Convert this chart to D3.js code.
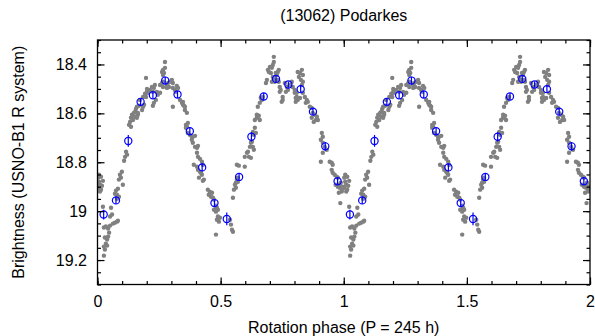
<!DOCTYPE html>
<html>
<head>
<meta charset="utf-8">
<script src="https://cdn.jsdelivr.net/npm/d3@7"></script>
<style>
  body { margin: 0; background: #fff; }
  svg text { font-family: "Liberation Sans", Arial, Helvetica, sans-serif; fill: #000; }
</style>
</head>
<body>
<svg id="chart" width="595" height="336"></svg>
<script>
// Folded light curve of (13062) Podarkes, shown over two rotation cycles.
const title = "(13062) Podarkes";
const xTitle = "Rotation phase (P = 245 h)";
const yTitle = "Brightness (USNO-B1 R system)";

const cycles = [0, 1];
const xTicks = [0, 0.5, 1, 1.5, 2];
const xTickLabels = ["0", "0.5", "1", "1.5", "2"];
const yTicks = [18.4, 18.6, 18.8, 19, 19.2];
const yTickLabels = ["18.4", "18.6", "18.8", "19", "19.2"];

// Binned means (phase bin centre, magnitude, 1-sigma error)
const binPhase = [0.025, 0.075, 0.125, 0.175, 0.225, 0.275, 0.325, 0.375, 0.425, 0.475,
                  0.525, 0.575, 0.625, 0.675, 0.725, 0.775, 0.825, 0.875, 0.925, 0.975];
const binMag = [19.014, 18.956, 18.713, 18.553, 18.526, 18.466, 18.523, 18.673, 18.821, 18.967,
                19.032, 18.860, 18.696, 18.531, 18.459, 18.482, 18.501, 18.593, 18.735, 18.878];
const binErr = [0.020, 0.015, 0.024, 0.014, 0.012, 0.016, 0.014, 0.016, 0.016, 0.014,
                0.026, 0.016, 0.019, 0.014, 0.014, 0.012, 0.014, 0.014, 0.018, 0.014];

// Individual measurements (phase, magnitude)
const dotPhase = [
  0.002, 0.006, 0.010, 0.002, 0.014, 0.018, 0.010, 0.022, 0.006, 0.014,
  0.022, 0.026, 0.034, 0.030, 0.039, 0.043, 0.034, 0.026, 0.030, 0.026,
  0.039, 0.047, 0.043, 0.051,
  0.055, 0.059, 0.051, 0.063, 0.071, 0.079, 0.083, 0.075, 0.079, 0.083,
  0.087, 0.079, 0.071, 0.091, 0.095, 0.099, 0.087, 0.103,
  0.108, 0.112, 0.116, 0.120, 0.128, 0.132, 0.136, 0.140, 0.144, 0.136,
  0.148, 0.152, 0.156, 0.160, 0.164, 0.168, 0.172, 0.160, 0.164, 0.152,
  0.181, 0.185, 0.189, 0.185, 0.193, 0.201, 0.197, 0.201, 0.205, 0.197,
  0.213, 0.221, 0.225, 0.229, 0.233, 0.241, 0.245, 0.237, 0.229, 0.225,
  0.254, 0.254, 0.262, 0.266, 0.266, 0.262, 0.266, 0.270, 0.274, 0.266,
  0.274, 0.282, 0.286, 0.290, 0.282, 0.294, 0.302, 0.306,
  0.306, 0.314, 0.322, 0.318, 0.327, 0.306, 0.335, 0.343, 0.347, 0.347,
  0.355, 0.351, 0.355, 0.363, 0.359, 0.363, 0.367, 0.359, 0.367, 0.375,
  0.383, 0.387, 0.396, 0.383, 0.387, 0.396, 0.404, 0.408,
  0.404, 0.408, 0.416, 0.424, 0.428, 0.391, 0.404, 0.408, 0.416, 0.424,
  0.412, 0.420, 0.432, 0.428, 0.448, 0.456, 0.465, 0.452, 0.461, 0.469,
  0.473, 0.481, 0.485, 0.489, 0.481, 0.473, 0.497, 0.489, 0.485, 0.493,
  0.481,
  0.538, 0.542, 0.546, 0.550, 0.550, 0.554, 0.558, 0.562, 0.566, 0.570,
  0.562, 0.570, 0.566, 0.574, 0.598,
  0.598, 0.607, 0.611, 0.619, 0.623, 0.627, 0.631, 0.635, 0.615, 0.623,
  0.631, 0.639, 0.643, 0.635, 0.639, 0.647, 0.647, 0.651, 0.655, 0.659,
  0.651, 0.659, 0.663, 0.667, 0.671, 0.684, 0.688, 0.696, 0.692, 0.700,
  0.708, 0.712, 0.716, 0.716, 0.704, 0.712, 0.716, 0.724, 0.708, 0.720,
  0.728, 0.732, 0.736, 0.724, 0.732, 0.736, 0.740, 0.744, 0.740, 0.752,
  0.752, 0.748, 0.761, 0.769, 0.765, 0.773, 0.781, 0.789, 0.793, 0.801,
  0.809, 0.805, 0.813,
  0.813, 0.822, 0.830, 0.834, 0.818, 0.826, 0.834, 0.830, 0.801, 0.809,
  0.805, 0.822, 0.834, 0.842, 0.850, 0.846, 0.854, 0.862, 0.870, 0.874,
  0.883, 0.891, 0.895, 0.887, 0.870, 0.878,
  0.911, 0.915, 0.907, 0.915, 0.923, 0.931, 0.915, 0.907, 0.943, 0.951,
  0.955, 0.951, 0.955, 0.963, 0.971, 0.976, 0.967, 0.976, 0.984, 0.992,
  0.984, 0.988, 0.996, 0.992, 0.980, 0.986
];
const dotMag = [
  18.863, 18.880, 18.892, 18.904, 18.912, 18.896, 18.920, 18.876, 18.851, 18.859,
  18.982, 19.067, 19.063, 19.108, 19.116, 19.104, 19.133, 19.145, 19.157, 19.182,
  19.141, 19.088, 19.071, 19.059,
  18.986, 19.014, 19.022, 19.051, 19.047, 19.043, 19.039, 18.916, 18.933, 18.908,
  18.941, 18.949, 18.929, 18.851, 18.863, 18.839, 18.871, 18.892,
  18.794, 18.778, 18.757, 18.769, 18.647, 18.635, 18.618, 18.606, 18.627, 18.655,
  18.598, 18.594, 18.582, 18.573, 18.598, 18.569, 18.545, 18.618, 18.606, 18.614,
  18.586, 18.573, 18.565, 18.533, 18.520, 18.512, 18.533, 18.500, 18.516, 18.455,
  18.504, 18.492, 18.512, 18.496, 18.484, 18.512, 18.524, 18.545, 18.557, 18.569,
  18.516, 18.484, 18.476, 18.492, 18.471, 18.431, 18.422, 18.435, 18.414, 18.443,
  18.390, 18.484, 18.476, 18.492, 18.496, 18.471, 18.463, 18.476,
  18.496, 18.504, 18.488, 18.512, 18.496, 18.573, 18.545, 18.557, 18.553, 18.565,
  18.573, 18.569, 18.586, 18.598, 18.647, 18.655, 18.639, 18.659, 18.680, 18.688,
  18.696, 18.696, 18.692, 18.708, 18.720, 18.737, 18.741, 18.733,
  18.761, 18.778, 18.786, 18.798, 18.810, 18.810, 18.818, 18.831, 18.839, 18.851,
  18.863, 18.843, 18.871, 18.876, 18.912, 18.920, 18.925, 18.933, 18.941, 18.945,
  18.953, 18.978, 18.986, 18.994, 19.002, 18.994, 19.027, 19.022, 19.035, 19.043,
  19.096,
  19.035, 19.055, 19.076, 19.084, 18.945, 18.912, 18.892, 18.884, 18.871, 18.863,
  18.904, 18.880, 18.810, 18.814, 18.818,
  18.778, 18.761, 18.757, 18.737, 18.720, 18.716, 18.737, 18.749, 18.778, 18.782,
  18.676, 18.659, 18.680, 18.688, 18.627, 18.618, 18.606, 18.614, 18.610, 18.627,
  18.573, 18.557, 18.537, 18.545, 18.533, 18.476, 18.463, 18.431, 18.422, 18.410,
  18.414, 18.402, 18.390, 18.369, 18.435, 18.451, 18.463, 18.435, 18.471, 18.471,
  18.443, 18.431, 18.422, 18.463, 18.463, 18.471, 18.492, 18.504, 18.512, 18.533,
  18.545, 18.553, 18.476, 18.492, 18.512, 18.504, 18.484, 18.471, 18.492, 18.504,
  18.516, 18.537, 18.545,
  18.431, 18.435, 18.422, 18.443, 18.451, 18.463, 18.471, 18.484, 18.516, 18.533,
  18.553, 18.537, 18.516, 18.533, 18.545, 18.557, 18.553, 18.573, 18.578, 18.598,
  18.606, 18.614, 18.627, 18.627, 18.618, 18.635,
  18.680, 18.696, 18.708, 18.720, 18.737, 18.749, 18.761, 18.798, 18.798, 18.802,
  18.810, 18.831, 18.843, 18.851, 18.859, 18.863, 18.892, 18.900, 18.904, 18.912,
  18.892, 18.884, 18.900, 18.920, 18.925, 18.967
];

const W = 595, H = 336;
const plot = { left: 97.5, right: 590, top: 40, bottom: 284.5 };

const svg = d3.select("#chart");

const x = d3.scaleLinear().domain([0, 2]).range([plot.left, plot.right]);
const y = d3.scaleLinear().domain([18.3, 19.3]).range([plot.top, plot.bottom]);

const dots = [];
cycles.forEach(c => dotPhase.forEach((p, i) => dots.push({ phase: p + c, mag: dotMag[i] })));
const bins = [];
cycles.forEach(c => binPhase.forEach((p, i) => bins.push({ phase: p + c, mag: binMag[i], err: binErr[i] })));

svg.append("defs").append("clipPath").attr("id", "plotclip")
  .append("rect")
  .attr("x", plot.left).attr("y", plot.top)
  .attr("width", plot.right - plot.left).attr("height", plot.bottom - plot.top);

const marks = svg.append("g").attr("clip-path", "url(#plotclip)");

// individual measurements
marks.append("g").selectAll("circle").data(dots).join("circle")
  .attr("cx", d => x(d.phase))
  .attr("cy", d => y(d.mag))
  .attr("r", 2.2)
  .attr("fill", "#808080");

// binned means with error bars
const binG = marks.append("g").selectAll("g").data(bins).join("g");
binG.append("line")
  .attr("x1", d => x(d.phase)).attr("x2", d => x(d.phase))
  .attr("y1", d => y(d.mag - d.err)).attr("y2", d => y(d.mag + d.err))
  .attr("stroke", "#0000ff").attr("stroke-width", 1.2);
binG.append("circle")
  .attr("cx", d => x(d.phase))
  .attr("cy", d => y(d.mag))
  .attr("r", 3.6)
  .attr("fill", "none")
  .attr("stroke", "#0000ff")
  .attr("stroke-width", 1.2);

// axes: ticks point inward on all four sides
const fontSize = 16;
function styleAxis(g) {
  g.select(".domain").remove();
  g.selectAll(".tick line").attr("stroke", "#000").attr("stroke-width", 1.2);
  g.selectAll("text").style("font-size", fontSize + "px")
    .style("font-family", '"Liberation Sans", Arial, sans-serif').attr("fill", "#000");
}

const xMinor = x.ticks(20);
const yMinor = y.ticks(20);

svg.append("g").attr("transform", `translate(0,${plot.bottom})`)
  .call(d3.axisBottom(x).tickValues(xMinor).tickSize(-3.5).tickFormat(""))
  .call(styleAxis);
svg.append("g").attr("transform", `translate(0,${plot.bottom})`)
  .call(d3.axisBottom(x).tickValues(xTicks).tickSize(-7).tickPadding(11)
    .tickFormat((d, i) => xTickLabels[i]))
  .call(styleAxis);
svg.append("g").attr("transform", `translate(0,${plot.top})`)
  .call(d3.axisTop(x).tickValues(xMinor).tickSize(-3.5).tickFormat(""))
  .call(styleAxis);
svg.append("g").attr("transform", `translate(0,${plot.top})`)
  .call(d3.axisTop(x).tickValues(xTicks).tickSize(-7).tickFormat(""))
  .call(styleAxis);

svg.append("g").attr("transform", `translate(${plot.left},0)`)
  .call(d3.axisLeft(y).tickValues(yMinor).tickSize(-3.5).tickFormat(""))
  .call(styleAxis);
svg.append("g").attr("transform", `translate(${plot.left},0)`)
  .call(d3.axisLeft(y).tickValues(yTicks).tickSize(-7).tickPadding(10.5)
    .tickFormat((d, i) => yTickLabels[i]))
  .call(styleAxis);
svg.append("g").attr("transform", `translate(${plot.right},0)`)
  .call(d3.axisRight(y).tickValues(yMinor).tickSize(-3.5).tickFormat(""))
  .call(styleAxis);
svg.append("g").attr("transform", `translate(${plot.right},0)`)
  .call(d3.axisRight(y).tickValues(yTicks).tickSize(-7).tickFormat(""))
  .call(styleAxis);

// frame
svg.append("rect")
  .attr("x", plot.left).attr("y", plot.top)
  .attr("width", plot.right - plot.left).attr("height", plot.bottom - plot.top)
  .attr("fill", "none").attr("stroke", "#000").attr("stroke-width", 1.3);

// titles
const cx = (plot.left + plot.right) / 2;
svg.append("text").attr("x", cx).attr("y", 20.5)
  .attr("text-anchor", "middle").style("font-size", fontSize + "px").text(title);
svg.append("text").attr("x", cx).attr("y", 332.5)
  .attr("text-anchor", "middle").style("font-size", fontSize + "px").text(xTitle);
svg.append("text")
  .attr("transform", `translate(23.5,${(plot.top + plot.bottom) / 2}) rotate(-90)`)
  .attr("text-anchor", "middle").style("font-size", fontSize + "px").text(yTitle);
</script>
</body>
</html>
